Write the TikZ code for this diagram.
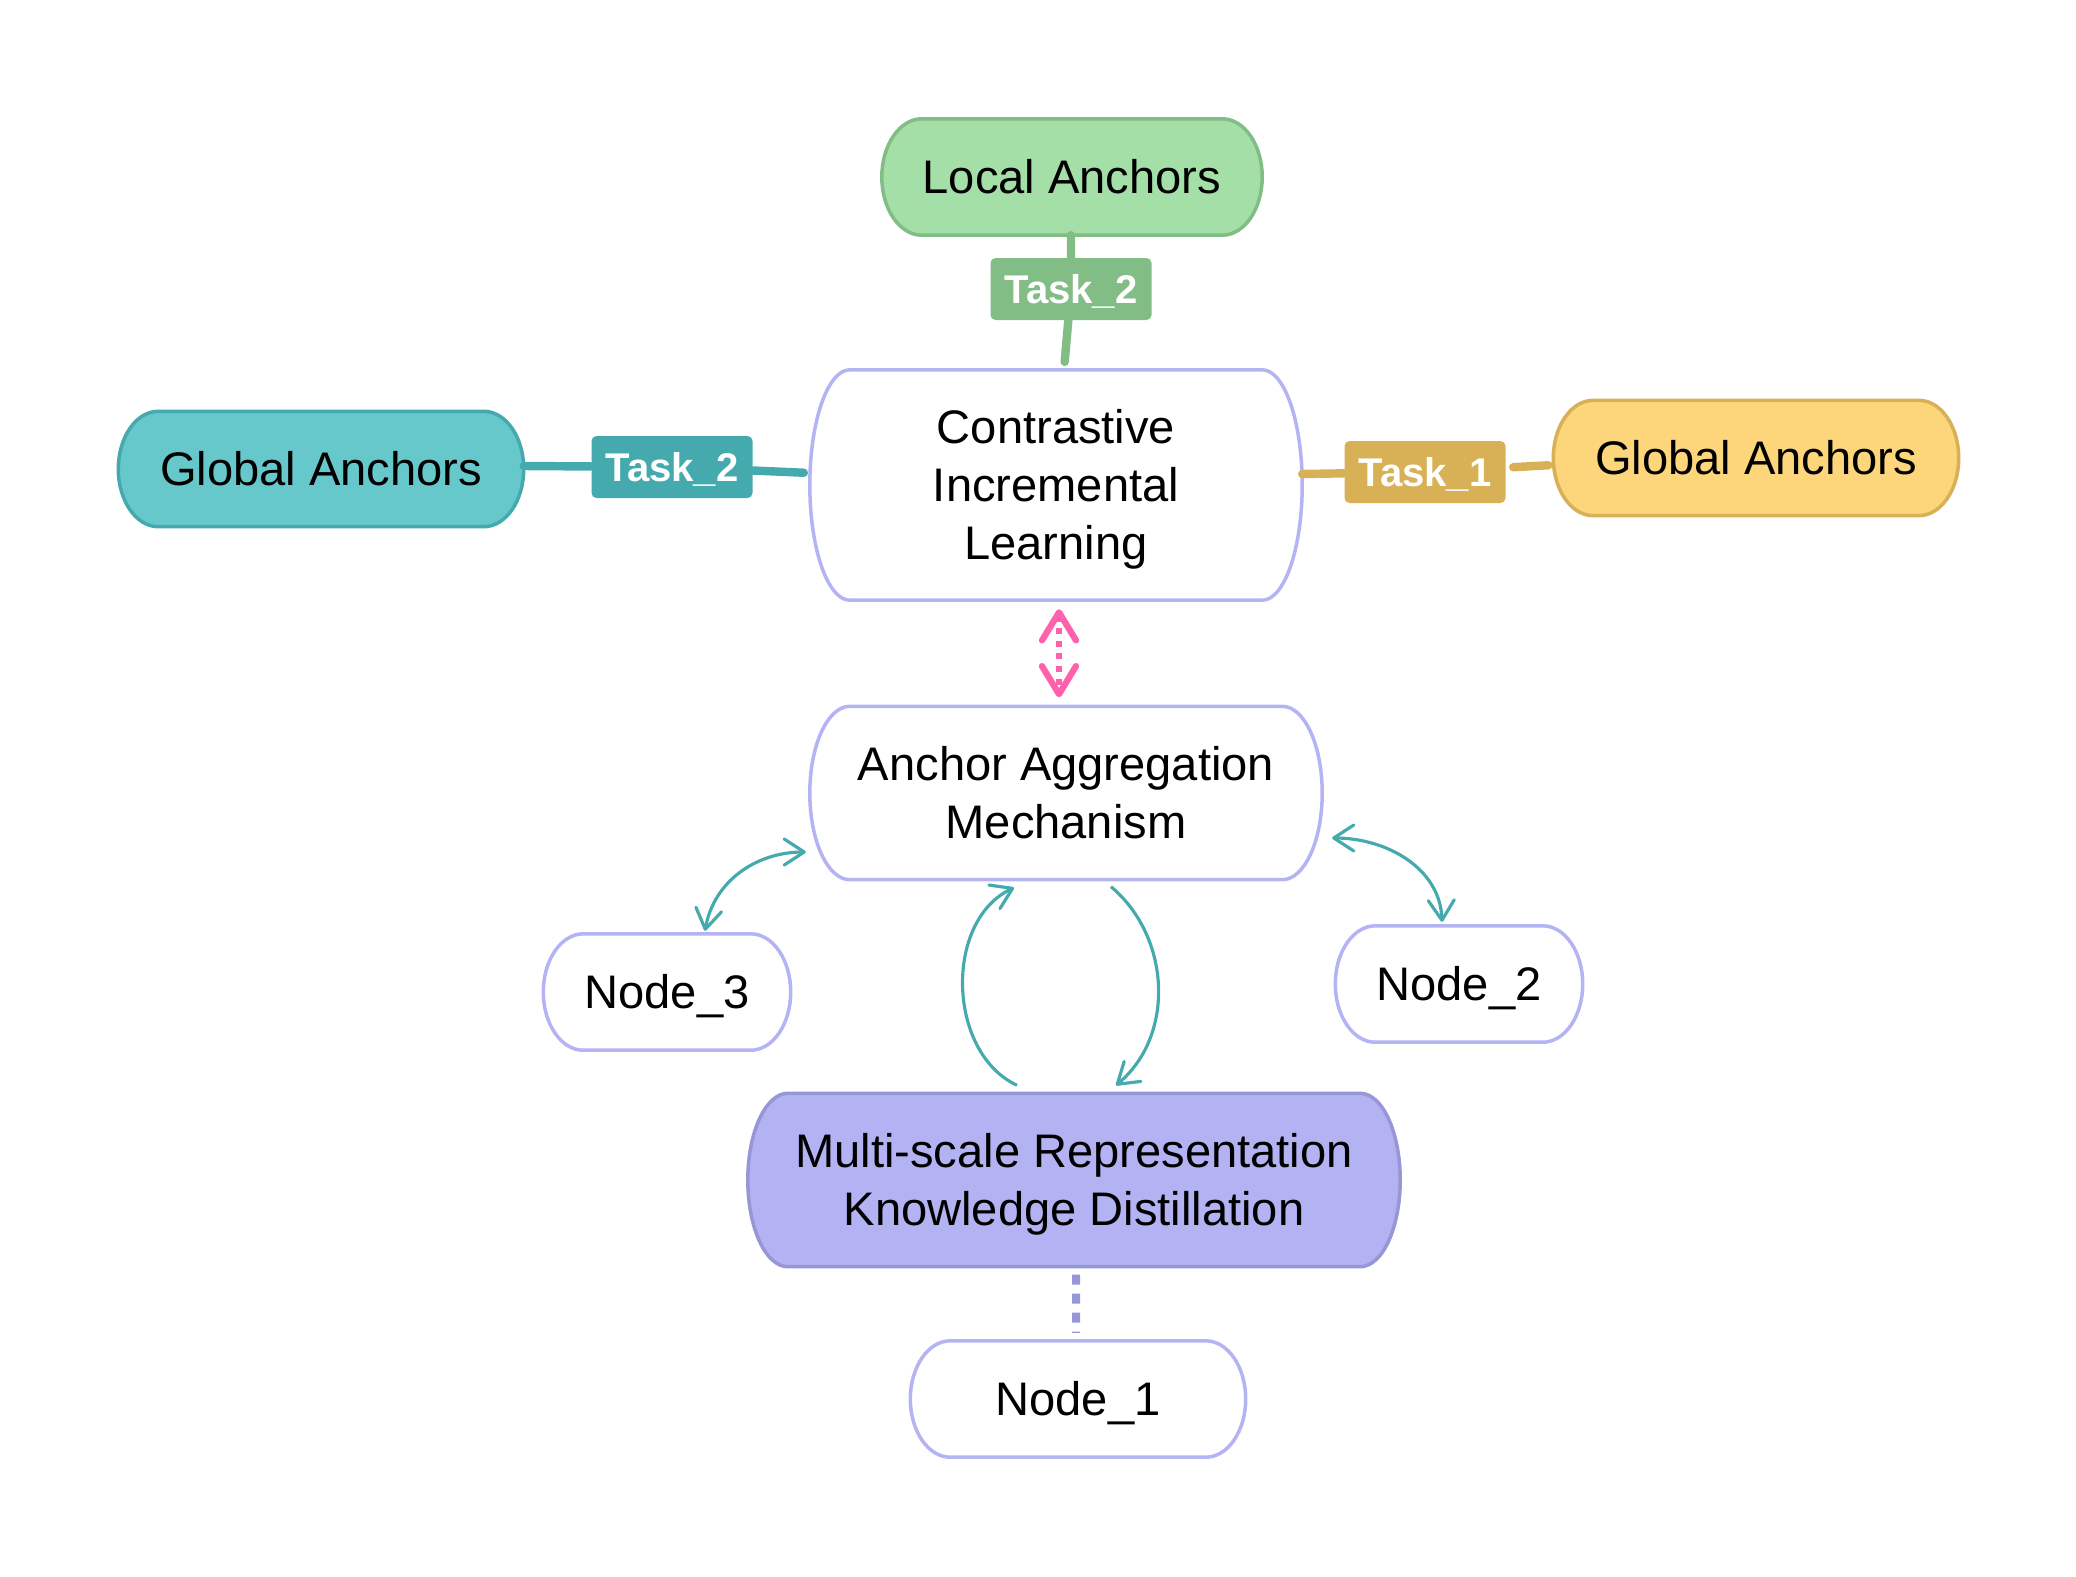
\documentclass[tikz,border=0pt]{standalone}
\usepackage{fontspec}
\setmainfont{Liberation Sans}
\usetikzlibrary{calc,arrows.meta,backgrounds}
\definecolor{tealfill}{HTML}{67C8CC}
\definecolor{tealdark}{HTML}{45AAAE}
\definecolor{goldfill}{HTML}{FDD57B}
\definecolor{golddark}{HTML}{D8B055}
\definecolor{greenfill}{HTML}{A3DFA7}
\definecolor{greendark}{HTML}{83BD86}
\definecolor{lav}{HTML}{B4B4F4}
\definecolor{msfill}{HTML}{B3B3F3}
\definecolor{msdark}{HTML}{9797D7}
\definecolor{pinkarr}{HTML}{FF62AD}
\newcommand\ebox[2]{%
  \path[#2] let \p1=(#1.north west), \p2=(#1.south east), \n1={(\y1-\y2)/2} in
    (\x1+0.4cm,\y1) -- (\x2-0.4cm,\y1)
    arc[start angle=90,end angle=-90,x radius=0.4cm,y radius=\n1]
    -- (\x1+0.4cm,\y2)
    arc[start angle=270,end angle=90,x radius=0.4cm,y radius=\n1] -- cycle;}
\newcommand\sttop{\rule{0pt}{0.45cm}}
\newcommand\stbot{\rule[-0.12cm]{0pt}{0.12cm}}
\tikzset{
  txt/.style={font=\fontsize{13.4pt}{16.5pt}\selectfont, align=center, inner sep=0pt},
  tasklbl/.style={font=\fontsize{11.4pt}{13pt}\selectfont\bfseries, text=white,
    rounded corners=0.05cm, minimum width=1.61cm, minimum height=0.62cm, inner sep=0pt,
    execute at begin node={\rule{0pt}{0.40cm}},
    execute at end node={\rule[-0.113cm]{0pt}{0.113cm}}},
  thickedge/.style={line width=2.4pt, line cap=round},
  tealarrow/.style={draw=tealdark, line width=0.9pt, {Straight Barb[length=0.2cm,width=0.26cm,round]}-{Straight Barb[length=0.2cm,width=0.26cm,round]}},
  tealone/.style={draw=tealdark, line width=0.9pt, -{Straight Barb[length=0.2cm,width=0.26cm,round]}},
  plainbox/.style={fill=white, draw=lav, line width=1pt},
}
\begin{document}
\begin{tikzpicture}
\useasboundingbox (0,0) rectangle (20.76,-15.76);
% nodes
\node[txt, minimum width=3.79cm, minimum height=1.15cm] (la) at (10.72,-1.77) {\sttop Local Anchors\stbot};
\node[tasklbl, fill=greendark] (t2g) at (10.71,-2.89) {Task\_2};
\node[txt, minimum width=4.91cm, minimum height=2.29cm] (cil) at (10.56,-4.85) {\sttop Contrastive\\Incremental\\Learning\stbot};
\node[txt, minimum width=4.04cm, minimum height=1.14cm] (gl) at (3.21,-4.69) {\sttop Global Anchors\stbot};
\node[tasklbl, fill=tealdark] (t2t) at (6.72,-4.67) {Task\_2};
\node[tasklbl, fill=golddark] (t1) at (14.25,-4.72) {Task\_1};
\node[txt, minimum width=4.04cm, minimum height=1.14cm] (gr) at (17.56,-4.58) {\sttop Global Anchors\stbot};
\node[txt, minimum width=5.11cm, minimum height=1.72cm] (aam) at (10.66,-7.93) {\sttop Anchor Aggregation\\Mechanism\stbot};
\node[txt, minimum width=2.46cm, minimum height=1.15cm] (n3) at (6.67,-9.92) {\sttop Node\_3\stbot};
\node[txt, minimum width=2.46cm, minimum height=1.15cm] (n2) at (14.59,-9.84) {\sttop Node\_2\stbot};
\node[txt, minimum width=6.51cm, minimum height=1.72cm] (ms) at (10.74,-11.80) {\sttop Multi-scale Representation\\Knowledge Distillation\stbot};
\node[txt, minimum width=3.34cm, minimum height=1.15cm] (n1) at (10.78,-13.99) {\sttop Node\_1\stbot};
\begin{pgfonlayer}{background}
\ebox{la}{fill=greenfill, draw=greendark, line width=1pt}
\ebox{cil}{plainbox}
\ebox{gl}{fill=tealfill, draw=tealdark, line width=1pt}
\ebox{gr}{fill=goldfill, draw=golddark, line width=1pt}
\ebox{aam}{plainbox}
\ebox{n3}{plainbox}
\ebox{n2}{plainbox}
\ebox{ms}{fill=msfill, draw=msdark, line width=1pt}
\ebox{n1}{plainbox}
% thick labelled edges
\draw[thickedge, draw=greendark, shorten <=-0.04cm, shorten >=0.08cm] ([xshift=-0.01cm]la.south) -- (t2g) -- ([xshift=0.08cm]cil.north);
\draw[thickedge, draw=tealdark, shorten <=-0.04cm, shorten >=0.06cm] ([yshift=0.03cm]gl.east) -- (t2t) -- ([yshift=0.12cm]cil.west);
\draw[thickedge, draw=golddark, shorten <=0.07cm, shorten >=0.05cm] ([yshift=0.11cm]cil.east) -- (t1) -- ([yshift=-0.07cm]gr.west);
\end{pgfonlayer}
% pink dotted double arrow
\draw[draw=pinkarr, line width=1.8pt, dash pattern=on 1.7pt off 1.9pt,
  shorten <=0.09cm, shorten >=0.09cm,
  {Straight Barb[length=0.28cm,width=0.34cm,round]}-{Straight Barb[length=0.28cm,width=0.34cm,round]}]
  ([xshift=0.03cm]cil.south) -- ([xshift=-0.07cm]aam.north);
% purple dotted
\draw[draw=msdark, line width=0.08cm, dash pattern=on 0.1cm off 0.09cm, shorten <=0.08cm, shorten >=0.08cm]
  ([xshift=0.02cm]ms.south) -- ([xshift=-0.02cm]n1.north);
% teal arrows
\draw[tealarrow] ([xshift=0.38cm,yshift=0.03cm]n3.north) to[out=80,in=180] ([xshift=-0.04cm,yshift=-0.59cm]aam.west);
\draw[tealarrow] ([xshift=0.10cm,yshift=-0.45cm]aam.east) to[out=0,in=92] ([xshift=-0.17cm,yshift=0.04cm]n2.north);
\draw[tealone] ([xshift=0.45cm,yshift=-0.07cm]aam.south) to[out=-40,in=40] ([xshift=0.42cm,yshift=0.08cm]ms.north);
\draw[tealone] ([xshift=-0.57cm,yshift=0.08cm]ms.north) to[out=155,in=-155] ([xshift=-0.52cm,yshift=-0.08cm]aam.south);
\end{tikzpicture}
\end{document}
